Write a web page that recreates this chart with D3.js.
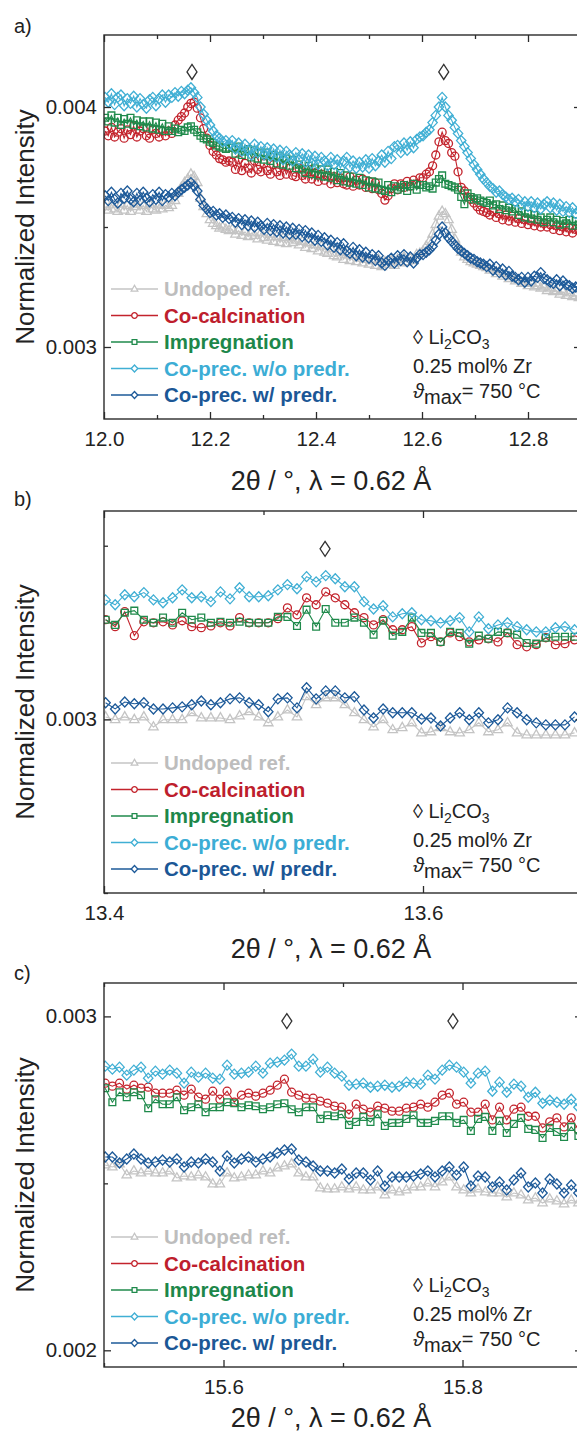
<!DOCTYPE html>
<html>
<head>
<meta charset="utf-8">
<script src="https://cdn.jsdelivr.net/npm/d3@7"></script>
<style>
  html, body { margin: 0; padding: 0; background: #fff; }
  svg { display: block; font-family: "Liberation Sans", Arial, Helvetica, sans-serif; }
</style>
</head>
<body>
<svg id="chart" width="577" height="1434"></svg>
<script>
// ---------- Series (legend order) ----------
const seriesNames  = ["Undoped ref.", "Co-calcination", "Impregnation", "Co-prec. w/o predr.", "Co-prec. w/ predr."];
const seriesColors = ["#c4c4c4", "#c3232c", "#1f8a4b", "#40afd4", "#1d5a99"];
const textColors   = ["#bdbdbd", "#be1e2d", "#1d874a", "#3cadd5", "#1b5796"];
const seriesShapes = ["triangle", "circle", "square", "diamond", "diamond"];

// Normalized intensities are listed in units of 1e-3
const unit = 1e-3;

// ---------- Panel a: 2θ = 12.0 – 12.9 ° ----------
const twoThetaA = [
12.002,12.008,12.014,12.020,12.026,12.032,12.038,12.044,12.050,12.056,
12.062,12.068,12.074,12.080,12.086,12.092,12.098,12.104,12.110,12.116,
12.122,12.128,12.134,12.140,12.146,12.152,12.158,12.164,12.170,12.176,
12.182,12.188,12.194,12.200,12.206,12.212,12.218,12.224,12.230,12.236,
12.242,12.248,12.254,12.260,12.266,12.272,12.278,12.284,12.290,12.296,
12.302,12.308,12.314,12.320,12.326,12.332,12.338,12.344,12.350,12.356,
12.362,12.368,12.374,12.380,12.386,12.392,12.398,12.404,12.410,12.416,
12.422,12.428,12.434,12.440,12.446,12.452,12.458,12.464,12.470,12.476,
12.482,12.488,12.494,12.500,12.506,12.512,12.518,12.524,12.530,12.536,
12.542,12.548,12.554,12.560,12.566,12.572,12.578,12.584,12.590,12.596,
12.602,12.608,12.614,12.620,12.626,12.632,12.638,12.644,12.650,12.656,
12.662,12.668,12.674,12.680,12.686,12.692,12.698,12.704,12.710,12.716,
12.722,12.728,12.734,12.740,12.746,12.752,12.758,12.764,12.770,12.776,
12.782,12.788,12.794,12.800,12.806,12.812,12.818,12.824,12.830,12.836,
12.842,12.848,12.854,12.860,12.866,12.872,12.878,12.884,12.890,12.896];

const undopedA = [
3.585,3.570,3.595,3.575,3.565,3.595,3.570,3.590,3.565,3.585,
3.595,3.570,3.590,3.565,3.595,3.575,3.570,3.595,3.575,3.590,
3.580,3.590,3.610,3.640,3.665,3.685,3.700,3.720,3.710,3.685,
3.620,3.585,3.555,3.530,3.515,3.505,3.495,3.500,3.490,3.485,
3.490,3.470,3.485,3.465,3.480,3.460,3.475,3.465,3.450,3.475,
3.455,3.445,3.470,3.440,3.460,3.435,3.455,3.430,3.455,3.435,
3.445,3.425,3.440,3.415,3.435,3.410,3.425,3.400,3.420,3.395,
3.390,3.410,3.380,3.375,3.395,3.365,3.385,3.360,3.380,3.355,
3.370,3.350,3.365,3.345,3.360,3.340,3.365,3.335,3.355,3.345,
3.360,3.340,3.365,3.350,3.375,3.355,3.370,3.360,3.385,3.390,
3.400,3.420,3.440,3.470,3.510,3.545,3.565,3.555,3.530,3.490,
3.450,3.420,3.395,3.375,3.365,3.355,3.350,3.345,3.340,3.335,
3.330,3.320,3.325,3.305,3.315,3.295,3.305,3.285,3.295,3.275,
3.280,3.265,3.270,3.255,3.265,3.250,3.255,3.245,3.250,3.235,
3.245,3.230,3.235,3.220,3.230,3.215,3.225,3.210,3.215,3.205];

const coCalcA = [
3.900,3.880,3.915,3.875,3.895,3.910,3.870,3.905,3.885,3.920,
3.875,3.900,3.910,3.880,3.870,3.905,3.890,3.875,3.900,3.880,
3.900,3.890,3.925,3.945,3.960,3.975,4.000,4.015,4.020,3.995,
3.955,3.910,3.870,3.840,3.815,3.800,3.785,3.780,3.770,3.775,
3.770,3.740,3.780,3.735,3.765,3.745,3.725,3.775,3.740,3.730,
3.765,3.735,3.720,3.760,3.730,3.715,3.755,3.720,3.745,3.715,
3.710,3.745,3.715,3.700,3.740,3.700,3.725,3.690,3.720,3.695,
3.715,3.680,3.710,3.685,3.705,3.680,3.675,3.710,3.670,3.695,
3.675,3.700,3.665,3.690,3.660,3.685,3.655,3.640,3.612,3.630,
3.660,3.680,3.655,3.680,3.665,3.690,3.670,3.695,3.680,3.705,
3.705,3.720,3.730,3.755,3.800,3.855,3.895,3.860,3.848,3.810,
3.795,3.730,3.665,3.650,3.625,3.615,3.600,3.585,3.570,3.565,
3.560,3.550,3.565,3.540,3.555,3.530,3.550,3.525,3.545,3.520,
3.535,3.515,3.530,3.510,3.525,3.505,3.520,3.500,3.515,3.500,
3.510,3.490,3.505,3.485,3.500,3.480,3.495,3.475,3.490,3.485];

const impregA = [
3.955,3.940,3.965,3.935,3.955,3.925,3.950,3.930,3.955,3.925,
3.945,3.920,3.940,3.915,3.940,3.910,3.935,3.905,3.930,3.900,
3.920,3.900,3.910,3.895,3.905,3.900,3.915,3.920,3.905,3.895,
3.880,3.870,3.865,3.855,3.850,3.840,3.835,3.830,3.825,3.830,
3.830,3.805,3.835,3.800,3.815,3.825,3.790,3.820,3.785,3.810,
3.780,3.810,3.775,3.800,3.765,3.795,3.760,3.785,3.755,3.780,
3.745,3.760,3.740,3.725,3.755,3.720,3.745,3.715,3.740,3.710,
3.740,3.705,3.730,3.695,3.725,3.690,3.715,3.685,3.710,3.680,
3.705,3.675,3.695,3.665,3.690,3.660,3.685,3.655,3.650,3.675,
3.645,3.670,3.655,3.665,3.675,3.650,3.670,3.680,3.655,3.675,
3.675,3.665,3.670,3.660,3.685,3.700,3.715,3.680,3.675,3.670,
3.665,3.655,3.625,3.595,3.640,3.625,3.615,3.620,3.610,3.605,
3.600,3.610,3.590,3.595,3.575,3.590,3.570,3.580,3.565,3.575,
3.550,3.565,3.540,3.555,3.535,3.550,3.530,3.540,3.520,3.530,
3.540,3.520,3.530,3.510,3.525,3.515,3.530,3.505,3.525,3.510];

const coPrecNoDryA = [
4.040,4.020,4.055,4.010,4.040,4.050,4.005,4.035,4.015,4.045,
4.000,4.035,4.010,3.995,4.030,4.040,4.005,4.035,4.050,4.020,
4.050,4.040,4.060,4.045,4.065,4.055,4.070,4.080,4.060,4.040,
4.000,3.970,3.945,3.925,3.900,3.880,3.870,3.855,3.860,3.845,
3.860,3.825,3.850,3.815,3.845,3.820,3.800,3.845,3.810,3.835,
3.800,3.830,3.795,3.825,3.790,3.820,3.780,3.815,3.800,3.775,
3.810,3.780,3.805,3.770,3.800,3.765,3.795,3.760,3.790,3.775,
3.755,3.790,3.760,3.780,3.745,3.775,3.790,3.750,3.775,3.745,
3.770,3.750,3.780,3.745,3.785,3.755,3.775,3.800,3.770,3.815,
3.785,3.835,3.840,3.810,3.850,3.820,3.855,3.830,3.865,3.875,
3.880,3.895,3.905,3.935,3.965,4.000,4.040,4.000,3.965,3.945,
3.915,3.890,3.860,3.835,3.810,3.785,3.760,3.740,3.720,3.700,
3.685,3.670,3.660,3.645,3.650,3.635,3.625,3.615,3.620,3.605,
3.615,3.590,3.605,3.585,3.605,3.580,3.600,3.575,3.595,3.605,
3.580,3.600,3.570,3.595,3.565,3.585,3.560,3.580,3.555,3.570];

const coPrecDryA = [
3.630,3.610,3.645,3.615,3.600,3.640,3.620,3.650,3.615,3.605,
3.640,3.610,3.645,3.620,3.605,3.635,3.615,3.645,3.610,3.635,
3.625,3.640,3.630,3.645,3.655,3.665,3.675,3.685,3.670,3.650,
3.615,3.590,3.575,3.560,3.565,3.550,3.555,3.540,3.550,3.535,
3.540,3.520,3.535,3.510,3.530,3.505,3.525,3.500,3.520,3.505,
3.490,3.515,3.485,3.510,3.480,3.505,3.475,3.500,3.470,3.495,
3.470,3.490,3.460,3.485,3.455,3.475,3.445,3.465,3.440,3.455,
3.425,3.445,3.415,3.435,3.405,3.430,3.400,3.390,3.415,3.380,
3.405,3.375,3.395,3.370,3.385,3.360,3.380,3.350,3.340,3.360,
3.370,3.350,3.380,3.360,3.385,3.355,3.375,3.350,3.370,3.385,
3.385,3.395,3.405,3.420,3.445,3.470,3.500,3.475,3.455,3.440,
3.425,3.410,3.400,3.390,3.380,3.370,3.365,3.355,3.350,3.345,
3.335,3.345,3.320,3.335,3.310,3.325,3.300,3.315,3.295,3.290,
3.280,3.290,3.270,3.290,3.275,3.295,3.290,3.310,3.285,3.280,
3.270,3.265,3.280,3.255,3.275,3.260,3.255,3.245,3.250,3.255];

// ---------- Panel b: 2θ = 13.4 – 13.7 ° ----------
const twoThetaB = [
13.401,13.407,13.413,13.419,13.425,13.431,13.437,13.443,13.449,13.455,
13.461,13.467,13.473,13.479,13.485,13.491,13.497,13.503,13.509,13.515,
13.521,13.527,13.533,13.539,13.545,13.551,13.557,13.563,13.569,13.575,
13.581,13.587,13.593,13.599,13.605,13.611,13.617,13.623,13.629,13.635,
13.641,13.647,13.653,13.659,13.665,13.671,13.677,13.683,13.689,13.695];

const undopedB = [
3.007,2.999,3.007,2.999,3.007,2.978,2.999,2.999,2.999,3.019,
3.004,3.004,3.004,2.999,3.010,3.022,3.007,2.990,3.007,3.027,
3.007,3.065,3.042,3.062,3.062,3.042,3.019,2.999,2.978,2.999,
2.970,2.976,2.990,2.961,2.964,2.976,2.964,2.961,2.970,2.990,
2.964,2.970,2.990,2.961,2.955,2.955,2.955,2.955,2.955,2.961];

const coCalcB = [
3.287,3.267,3.310,3.241,3.281,3.278,3.281,3.272,3.284,3.267,
3.264,3.269,3.278,3.269,3.293,3.278,3.278,3.278,3.290,3.321,
3.301,3.350,3.330,3.367,3.350,3.330,3.307,3.293,3.272,3.287,
3.258,3.258,3.267,3.220,3.238,3.223,3.249,3.238,3.223,3.229,
3.232,3.223,3.249,3.215,3.209,3.215,3.235,3.215,3.218,3.229];

const impregB = [
3.287,3.272,3.307,3.313,3.287,3.278,3.293,3.278,3.307,3.287,
3.293,3.278,3.281,3.278,3.281,3.278,3.278,3.278,3.295,3.295,
3.269,3.316,3.267,3.318,3.278,3.278,3.293,3.278,3.244,3.284,
3.241,3.252,3.293,3.249,3.249,3.223,3.252,3.249,3.218,3.241,
3.232,3.252,3.249,3.244,3.220,3.218,3.235,3.238,3.238,3.238];

const coPrecNoDryB = [
3.344,3.330,3.359,3.353,3.365,3.344,3.336,3.350,3.373,3.350,
3.353,3.339,3.367,3.347,3.379,3.353,3.353,3.356,3.373,3.388,
3.376,3.411,3.396,3.414,3.405,3.382,3.382,3.339,3.318,3.327,
3.295,3.304,3.307,3.287,3.284,3.278,3.284,3.293,3.252,3.295,
3.261,3.272,3.278,3.267,3.258,3.252,3.252,3.264,3.267,3.258];

const coPrecDryB = [
3.048,3.030,3.050,3.045,3.048,3.030,3.030,3.033,3.036,3.042,
3.053,3.042,3.048,3.059,3.062,3.048,3.042,3.022,3.059,3.062,
3.033,3.091,3.059,3.082,3.082,3.062,3.065,3.027,3.004,3.030,
3.019,3.019,3.019,3.001,3.004,2.981,3.004,3.019,2.999,3.019,
2.990,2.999,3.033,3.019,2.999,2.990,2.984,2.984,2.984,3.007];

// ---------- Panel c: 2θ = 15.5 – 15.9 ° ----------
const twoThetaC = [
15.501,15.507,15.513,15.519,15.525,15.531,15.537,15.543,15.549,15.555,
15.561,15.567,15.573,15.579,15.585,15.591,15.597,15.603,15.609,15.615,
15.621,15.627,15.633,15.639,15.645,15.651,15.657,15.663,15.669,15.675,
15.681,15.687,15.693,15.699,15.705,15.711,15.717,15.723,15.729,15.735,
15.741,15.747,15.753,15.759,15.765,15.771,15.777,15.783,15.789,15.795,
15.801,15.807,15.813,15.819,15.825,15.831,15.837,15.843,15.849,15.855,
15.861,15.867,15.873,15.879,15.885,15.891,15.897];

const undopedC = [
2.555,2.549,2.558,2.525,2.537,2.531,2.537,2.531,2.531,2.537,
2.516,2.522,2.519,2.525,2.519,2.498,2.498,2.531,2.516,2.519,
2.525,2.525,2.537,2.531,2.546,2.552,2.558,2.531,2.519,2.519,
2.486,2.483,2.483,2.489,2.483,2.489,2.480,2.480,2.489,2.465,
2.480,2.474,2.480,2.489,2.489,2.501,2.489,2.504,2.519,2.489,
2.480,2.471,2.483,2.474,2.471,2.471,2.459,2.471,2.465,2.450,
2.456,2.441,2.453,2.447,2.438,2.450,2.441];

const coCalcC = [
2.800,2.791,2.800,2.782,2.794,2.785,2.788,2.770,2.770,2.770,
2.779,2.764,2.782,2.758,2.752,2.776,2.752,2.776,2.743,2.764,
2.770,2.761,2.770,2.779,2.794,2.812,2.773,2.764,2.755,2.755,
2.746,2.740,2.731,2.728,2.707,2.737,2.722,2.713,2.731,2.725,
2.716,2.716,2.725,2.728,2.737,2.728,2.743,2.764,2.770,2.737,
2.743,2.713,2.713,2.737,2.690,2.728,2.690,2.722,2.728,2.701,
2.701,2.666,2.684,2.696,2.669,2.696,2.660];

const impregC = [
2.785,2.743,2.773,2.758,2.773,2.764,2.725,2.752,2.737,2.737,
2.758,2.719,2.728,2.737,2.713,2.728,2.728,2.743,2.740,2.728,
2.734,2.731,2.722,2.728,2.737,2.740,2.722,2.713,2.728,2.728,
2.693,2.704,2.701,2.707,2.675,2.684,2.699,2.684,2.707,2.672,
2.681,2.681,2.693,2.704,2.681,2.681,2.687,2.701,2.701,2.681,
2.690,2.657,2.693,2.699,2.657,2.687,2.651,2.678,2.696,2.663,
2.660,2.636,2.666,2.654,2.639,2.669,2.642];

const coPrecNoDryC = [
2.851,2.842,2.848,2.824,2.839,2.848,2.815,2.836,2.827,2.839,
2.830,2.800,2.833,2.818,2.830,2.815,2.812,2.854,2.827,2.830,
2.833,2.851,2.830,2.860,2.863,2.869,2.887,2.851,2.851,2.872,
2.833,2.848,2.830,2.821,2.794,2.797,2.800,2.788,2.791,2.794,
2.788,2.791,2.803,2.800,2.797,2.824,2.812,2.839,2.854,2.848,
2.833,2.800,2.830,2.836,2.776,2.803,2.773,2.797,2.791,2.758,
2.773,2.740,2.749,2.743,2.737,2.752,2.728];

const coPrecDryC = [
2.579,2.579,2.561,2.573,2.588,2.573,2.561,2.564,2.570,2.564,
2.573,2.549,2.564,2.561,2.573,2.564,2.537,2.582,2.561,2.573,
2.579,2.564,2.573,2.579,2.591,2.600,2.603,2.570,2.564,2.552,
2.537,2.537,2.531,2.543,2.513,2.531,2.531,2.510,2.537,2.492,
2.519,2.519,2.519,2.522,2.528,2.537,2.519,2.537,2.549,2.525,
2.549,2.492,2.522,2.519,2.489,2.504,2.480,2.510,2.531,2.489,
2.501,2.471,2.513,2.498,2.471,2.495,2.471];

// ---------- Li2CO3 reflections (2θ) and marker height ----------
const li2co3A = [12.166, 12.641];
const li2co3B = [13.5386];
const li2co3C = [15.653, 15.792];
const li2co3LevelA = 4.146, li2co3LevelB = 3.491, li2co3LevelC = 2.986;

// ---------- Axis ticks ----------
const xMajorA = [12.0, 12.2, 12.4, 12.6, 12.8], xMinorA = [12.1, 12.3, 12.5, 12.7, 12.9];
const xMajorB = [13.4, 13.6],                   xMinorB = [13.5, 13.7];
const xMajorC = [15.6, 15.8],                   xMinorC = [15.5, 15.7, 15.9];
const yMajorA = [0.003, 0.004], yMinorA = [0.0035];
const yMajorB = [0.003],        yMinorB = [0.0025, 0.0035];
const yMajorC = [0.002, 0.003], yMinorC = [0.0025];

const noteLines = ["0.25 mol% Zr", "= 750 °C"];

// ---------- Panel layout ----------
const panels = [
  { key: "a", letter: "a)", letterY: 33,
    theta: twoThetaA, values: [undopedA, coCalcA, impregA, coPrecNoDryA, coPrecDryA],
    xDomain: [12.0, 12.9], yDomain: [0.0027, 0.0043],
    left: 104, right: 581, top: 35, bottom: 419, titleGap: 71,
    xMajor: xMajorA, xMinor: xMinorA, yMajor: yMajorA, yMinor: yMinorA,
    peaks: li2co3A, peakLevel: li2co3LevelA },
  { key: "b", letter: "b)", letterY: 506,
    theta: twoThetaB, values: [undopedB, coCalcB, impregB, coPrecNoDryB, coPrecDryB],
    xDomain: [13.4, 13.7], yDomain: [0.0025, 0.0036],
    left: 104, right: 582.5, top: 511, bottom: 893, titleGap: 65,
    xMajor: xMajorB, xMinor: xMinorB, yMajor: yMajorB, yMinor: yMinorB,
    peaks: li2co3B, peakLevel: li2co3LevelB },
  { key: "c", letter: "c)", letterY: 980,
    theta: twoThetaC, values: [undopedC, coCalcC, impregC, coPrecNoDryC, coPrecDryC],
    xDomain: [15.5, 15.9], yDomain: [0.00195, 0.0031],
    left: 104, right: 582, top: 983, bottom: 1367, titleGap: 60,
    xMajor: xMajorC, xMinor: xMinorC, yMajor: yMajorC, yMinor: yMinorC,
    peaks: li2co3C, peakLevel: li2co3LevelC }
];

const svg = d3.select("#chart");
const ink = "#2b2b2b";

function markerPath(shape, s) {
  if (shape === "triangle") return `M0,${-5.3 * s}L${4.7 * s},${2.9 * s}L${-4.7 * s},${2.9 * s}Z`;
  if (shape === "circle") { const r = 4 * s; return `M${r},0A${r},${r} 0 1,1 ${-r},0A${r},${r} 0 1,1 ${r},0Z`; }
  if (shape === "square") { const h = 3.4 * s; return `M${-h},${-h}H${h}V${h}H${-h}Z`; }
  return `M0,${-5 * s}L${4.7 * s},0L0,${5 * s}L${-4.7 * s},0Z`;
}

function styleAxis(g) {
  g.select(".domain").remove();
  g.attr("font-family", null).attr("font-size", null);
  g.selectAll(".tick line").attr("stroke", ink).attr("stroke-width", 1.3);
  g.selectAll(".tick text").attr("fill", "#222").style("font-size", "20.5px");
}

panels.forEach(p => {
  const x = d3.scaleLinear().domain(p.xDomain).range([p.left, p.right]);
  const y = d3.scaleLinear().domain(p.yDomain).range([p.bottom, p.top]);
  const g = svg.append("g").attr("class", "panel-" + p.key);

  svg.append("clipPath").attr("id", "clip-" + p.key)
    .append("rect").attr("x", p.left).attr("y", p.top)
    .attr("width", p.right - p.left).attr("height", p.bottom - p.top);

  const plot = g.append("g").attr("clip-path", `url(#clip-${p.key})`);

  // data series: connecting line + open markers
  p.values.forEach((vals, si) => {
    const pts = p.theta.map((t, i) => [x(t), y(vals[i] * unit)]);
    const sg = plot.append("g");
    sg.append("path").attr("d", d3.line()(pts))
      .attr("fill", "none").attr("stroke", seriesColors[si]).attr("stroke-width", 1.1);
    sg.selectAll("path.m").data(pts).join("path").attr("class", "m")
      .attr("transform", d => `translate(${d[0]},${d[1]})`)
      .attr("d", markerPath(seriesShapes[si], 1))
      .attr("fill", "none").attr("stroke", seriesColors[si]).attr("stroke-width", 1.3);
  });

  // Li2CO3 reflection markers
  plot.selectAll("path.peak").data(p.peaks).join("path").attr("class", "peak")
    .attr("transform", d => `translate(${x(d)},${y(p.peakLevel * unit)})`)
    .attr("d", "M0,-7.5L5,0L0,7.5L-5,0Z")
    .attr("fill", "none").attr("stroke", "#333").attr("stroke-width", 1.3);

  // frame
  g.append("rect").attr("x", p.left).attr("y", p.top)
    .attr("width", p.right - p.left).attr("height", p.bottom - p.top)
    .attr("fill", "none").attr("stroke", ink).attr("stroke-width", 1.4);

  // x axes (bottom labelled, top mirrored), ticks pointing inward
  g.append("g").attr("transform", `translate(0,${p.bottom})`)
    .call(d3.axisBottom(x).tickValues(p.xMinor).tickSize(-4).tickFormat("")).call(styleAxis);
  g.append("g").attr("transform", `translate(0,${p.bottom})`)
    .call(d3.axisBottom(x).tickValues(p.xMajor).tickSize(-7).tickPadding(12).tickFormat(d3.format(".1f"))).call(styleAxis);
  g.append("g").attr("transform", `translate(0,${p.top})`)
    .call(d3.axisTop(x).tickValues(p.xMinor).tickSize(-4).tickFormat("")).call(styleAxis);
  g.append("g").attr("transform", `translate(0,${p.top})`)
    .call(d3.axisTop(x).tickValues(p.xMajor).tickSize(-7).tickFormat("")).call(styleAxis);

  // y axes (left labelled, right mirrored)
  g.append("g").attr("transform", `translate(${p.left},0)`)
    .call(d3.axisLeft(y).tickValues(p.yMinor).tickSize(-4).tickFormat("")).call(styleAxis);
  g.append("g").attr("transform", `translate(${p.left},0)`)
    .call(d3.axisLeft(y).tickValues(p.yMajor).tickSize(-7).tickPadding(7).tickFormat(d3.format(".3f"))).call(styleAxis);
  g.append("g").attr("transform", `translate(${p.right},0)`)
    .call(d3.axisRight(y).tickValues(p.yMinor).tickSize(-4).tickFormat("")).call(styleAxis);
  g.append("g").attr("transform", `translate(${p.right},0)`)
    .call(d3.axisRight(y).tickValues(p.yMajor).tickSize(-7).tickFormat("")).call(styleAxis);

  // axis titles
  g.append("text").attr("transform", `translate(34,${(p.top + p.bottom) / 2}) rotate(-90)`)
    .attr("text-anchor", "middle").attr("fill", "#222").style("font-size", "26px")
    .text("Normalized Intensity");
  g.append("text").attr("x", 331).attr("y", p.bottom + p.titleGap)
    .attr("text-anchor", "middle").attr("fill", "#222").style("font-size", "27px")
    .text("2θ / °, λ = 0.62 Å");

  // panel letter
  g.append("text").attr("x", 14).attr("y", p.letterY)
    .attr("fill", "#222").style("font-size", "20px").text(p.letter);

  // legend
  const lg = g.append("g");
  seriesNames.forEach((name, si) => {
    const cy = p.bottom - 130 + 26.5 * si;
    lg.append("line").attr("x1", 111).attr("x2", 158).attr("y1", cy).attr("y2", cy)
      .attr("stroke", seriesColors[si]).attr("stroke-width", 1.6);
    lg.append("path").attr("transform", `translate(134.5,${cy})`)
      .attr("d", markerPath(seriesShapes[si], 0.7))
      .attr("fill", "#fff").attr("stroke", seriesColors[si]).attr("stroke-width", 1.3);
    lg.append("text").attr("x", 164).attr("y", cy).attr("dy", "0.35em")
      .attr("fill", textColors[si]).style("font-size", "20.5px").style("font-weight", "bold")
      .text(name);
  });

  // annotation block
  const ag = g.append("g").attr("fill", "#222").style("font-size", "20px");
  const t1 = ag.append("text").attr("x", 413).attr("y", p.bottom - 75);
  t1.append("tspan").text("◊ Li");
  t1.append("tspan").attr("dy", 5).style("font-size", "14px").text("2");
  t1.append("tspan").attr("dy", -5).text("CO");
  t1.append("tspan").attr("dy", 5).style("font-size", "14px").text("3");
  ag.append("text").attr("x", 413).attr("y", p.bottom - 46).text(noteLines[0]);
  const t3 = ag.append("text").attr("x", 413).attr("y", p.bottom - 21);
  t3.append("tspan").style("font-style", "italic").text("ϑ");
  t3.append("tspan").attr("dy", 6).text("max");
  t3.append("tspan").attr("dy", -6).text(noteLines[1]);
});
</script>
</body>
</html>
